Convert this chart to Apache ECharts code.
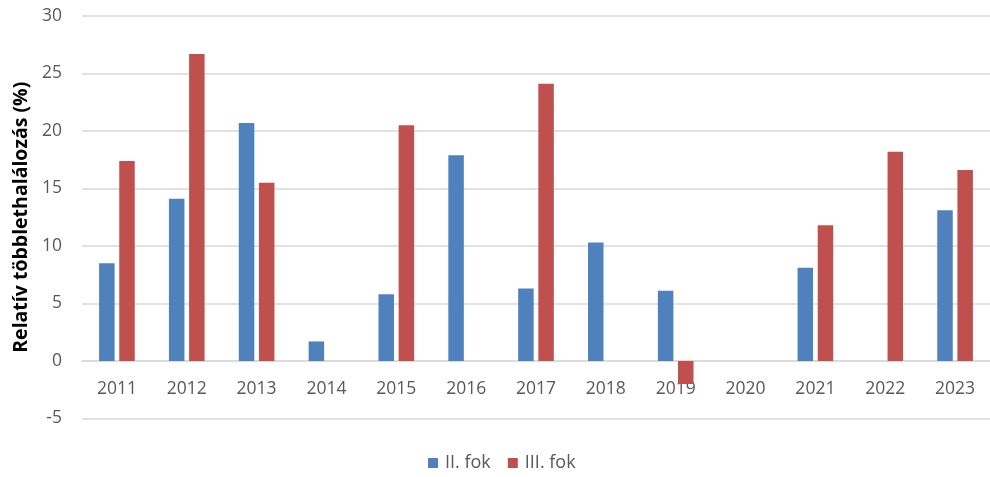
<!DOCTYPE html>
<html>
<head>
<meta charset="utf-8">
<script src="https://cdn.jsdelivr.net/npm/echarts@6/dist/echarts.min.js"></script>
<style>
  html, body { margin: 0; padding: 0; background: #fff; }
  #chart { width: 990px; height: 477px; }
</style>
</head>
<body>
<div id="chart"></div>
<script>
// Years on the category axis
const years = ['2011', '2012', '2013', '2014', '2015', '2016', '2017', '2018', '2019', '2020', '2021', '2022', '2023'];
// Relative excess mortality (%) per heat-alert level; null = no alert that year
const fokII = [8.5, 14.1, 20.7, 1.7, 5.8, 17.9, 6.3, 10.3, 6.1, null, 8.1, null, 13.1];
const fokIII = [17.4, 26.7, 15.5, null, 20.5, null, 24.1, null, -2.0, null, 11.8, 18.2, 16.6];
const seriesNames = ['II. fok', 'III. fok'];
const yTitle = 'Relatív többlethalálozás (%)';

const FONT = '"Open Sans", sans-serif';
const TEXT = '#595959';
const GRID = '#d9d9d9';

const chart = echarts.init(document.getElementById('chart'), null, { renderer: 'canvas' });
chart.setOption({
  animation: false,
  backgroundColor: '#ffffff',
  textStyle: { fontFamily: FONT },
  grid: { left: 82, top: 16, width: 910, height: 402.5, containLabel: false },
  legend: {
    top: 454,
    left: 428,
    padding: 0,
    itemWidth: 10,
    itemHeight: 10,
    itemGap: 17,
    icon: 'rect',
    textStyle: { color: TEXT, fontSize: 18, fontFamily: FONT, padding: [0, 0, 0, 2] },
    data: seriesNames
  },
  xAxis: {
    type: 'category',
    data: years,
    // the category axis sits on the zero line, labels just beneath it
    offset: -57.5,
    axisLine: { show: true, onZero: false, lineStyle: { color: GRID, width: 1.5 } },
    axisTick: { show: false },
    axisLabel: { color: TEXT, fontSize: 17.5, fontFamily: FONT, margin: 19 }
  },
  yAxis: {
    type: 'value',
    min: -5,
    max: 30,
    interval: 5,
    name: yTitle,
    nameLocation: 'middle',
    nameGap: 50,
    nameTextStyle: { color: '#000', fontSize: 19.5, fontWeight: 'bold', fontFamily: FONT },
    axisLine: { show: false },
    axisTick: { show: false },
    axisLabel: { color: TEXT, fontSize: 17.5, fontFamily: FONT, margin: 20 },
    splitLine: { lineStyle: { color: GRID, width: 1.5 } }
  },
  series: [
    {
      name: seriesNames[0],
      type: 'bar',
      data: fokII,
      barWidth: 15.5,
      barGap: '30%',
      itemStyle: { color: '#4F81BD' }
    },
    {
      name: seriesNames[1],
      type: 'bar',
      data: fokIII,
      barWidth: 15.5,
      barGap: '30%',
      itemStyle: { color: '#C0504D' }
    }
  ]
});
</script>
</body>
</html>
